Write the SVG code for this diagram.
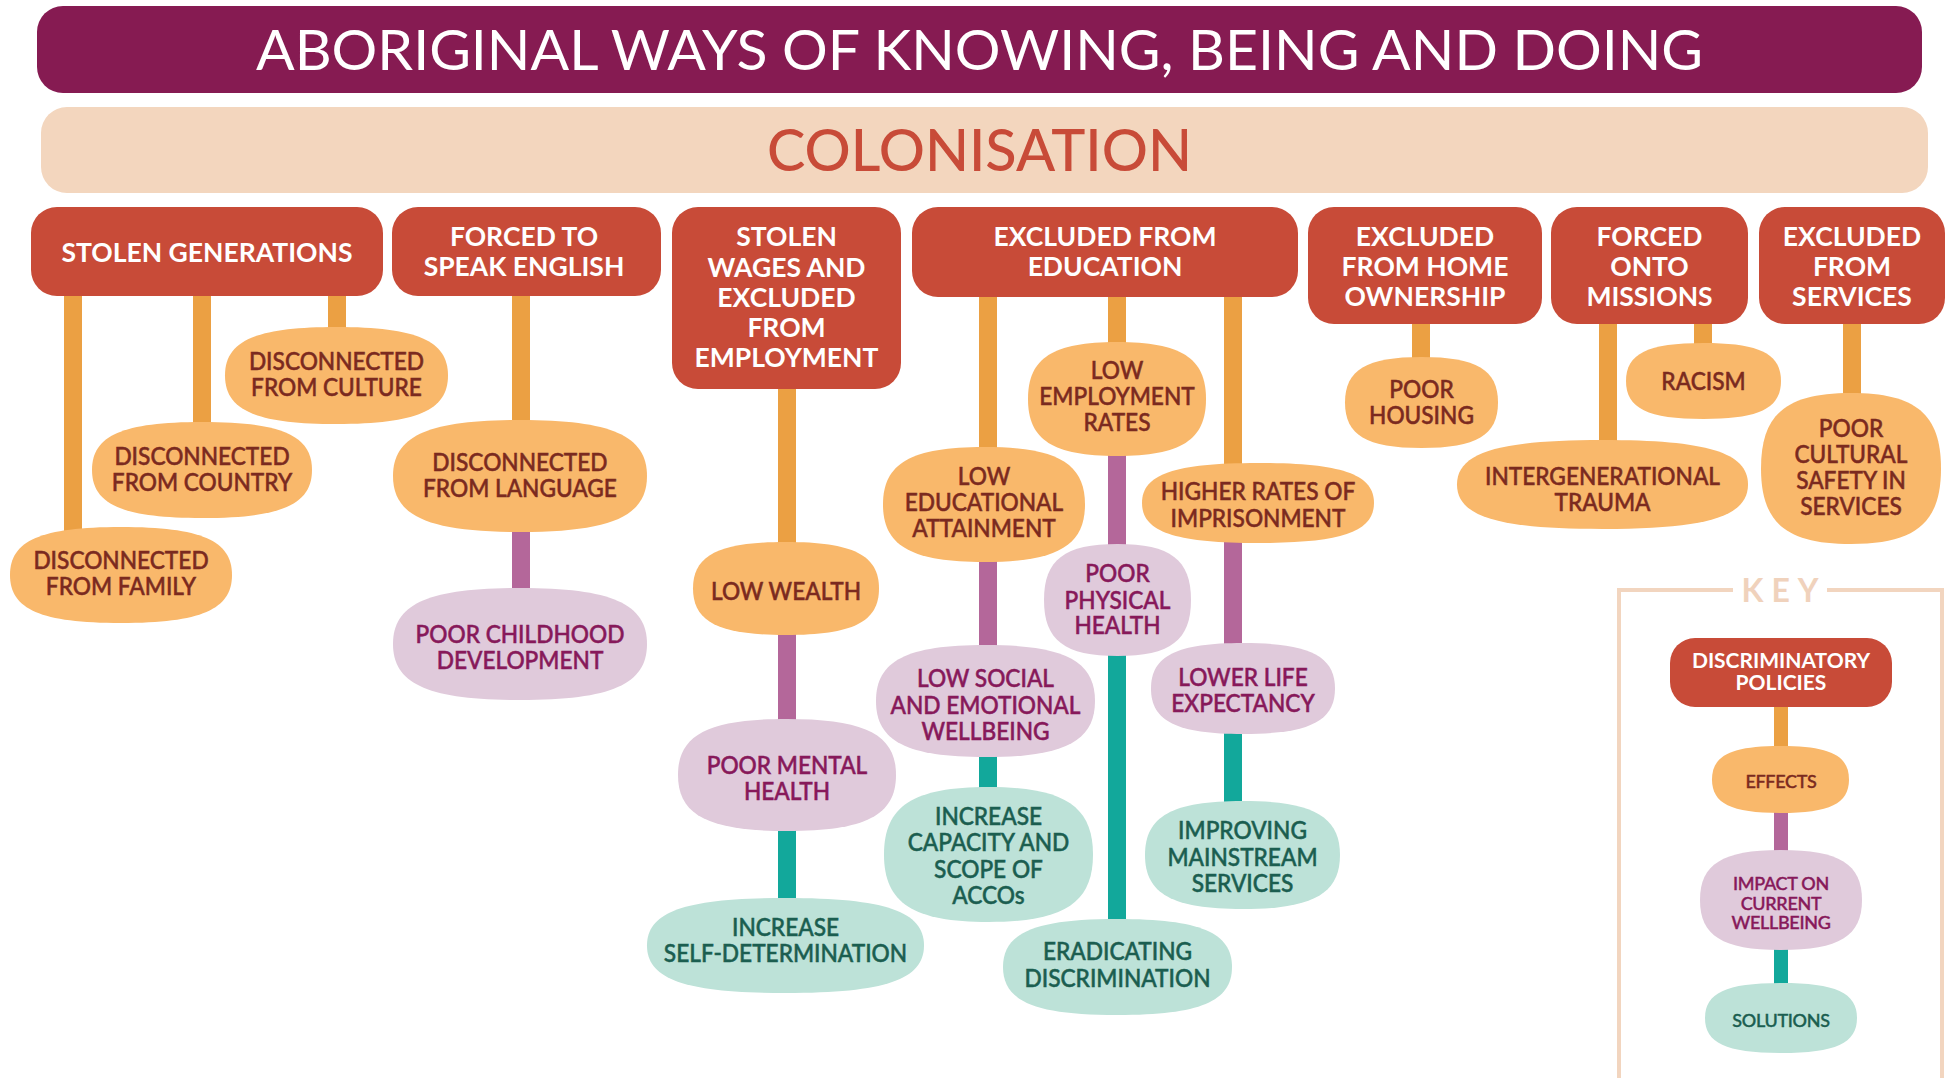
<svg xmlns="http://www.w3.org/2000/svg" width="1957" height="1078" viewBox="0 0 1957 1078">
<style>
  text{font-family:Lato,"Liberation Sans",sans-serif;text-anchor:middle}
  .policy{fill:#C84B38}
  .ptxt{font-weight:700;font-size:26.5px;fill:#fff}
  .eff{fill:#F9B86B}
  .imp{fill:#E0CADB}
  .sol{fill:#BDE2D8}
  .ntxt{font-size:24px;font-weight:500;stroke-width:0.5px;transform-box:fill-box;transform-origin:50% 50%;transform:scaleX(0.945)}
  .ktxt{font-size:18px;font-weight:500;letter-spacing:-0.3px;stroke-width:0.4px}
  .etxt{fill:#7B2A1F;stroke:#7B2A1F}
  .itxt{fill:#87195A;stroke:#87195A}
  .stxt{fill:#1B5E50;stroke:#1B5E50}
  .c-eff{stroke:#EBA043;stroke-width:18}
  .c-imp{stroke:#B4679A;stroke-width:18}
  .c-sol{stroke:#12A89B;stroke-width:18}
  .k{stroke-width:14}
</style>
<defs>
  <!-- rounded "squircle" node outline on a unit square -->
  <path id="blob" d="M-1 0C-1-.72-.72-1 0-1C.72-1 1-.72 1 0C1 .72 .72 1 0 1C-.72 1-1 .72-1 0Z"/>
</defs>

<rect width="1957" height="1078" fill="#fff"/>

<!-- header bands -->
<g id="title">
  <rect x="37" y="6" width="1885" height="87" rx="26" fill="#861B52"/>
  <text x="979.5" y="70" font-size="56" fill="#fff" textLength="1447" lengthAdjust="spacingAndGlyphs">ABORIGINAL WAYS OF KNOWING, BEING AND DOING</text>
</g>
<g id="colonisation">
  <rect x="41" y="107" width="1887" height="86" rx="26" fill="#F3D6BE"/>
  <text x="979.5" y="171" font-size="57" font-weight="500" fill="#C84B38" textLength="425" lengthAdjust="spacingAndGlyphs">COLONISATION</text>
</g>

<!-- connectors -->
<g id="connectors">
  <line class="c-eff" x1="73" y1="290" x2="73" y2="560"/>
  <line class="c-eff" x1="202" y1="290" x2="202" y2="470"/>
  <line class="c-eff" x1="337" y1="290" x2="337" y2="375"/>
  <line class="c-eff" x1="521" y1="290" x2="521" y2="476"/>
  <line class="c-imp" x1="521" y1="476" x2="521" y2="644"/>
  <line class="c-eff" x1="787" y1="380" x2="787" y2="588"/>
  <line class="c-imp" x1="787" y1="588" x2="787" y2="775"/>
  <line class="c-sol" x1="787" y1="775" x2="787" y2="945"/>
  <line class="c-eff" x1="988" y1="290" x2="988" y2="504"/>
  <line class="c-imp" x1="988" y1="504" x2="988" y2="701"/>
  <line class="c-sol" x1="988" y1="701" x2="988" y2="854"/>
  <line class="c-eff" x1="1117" y1="290" x2="1117" y2="399"/>
  <line class="c-imp" x1="1117" y1="399" x2="1117" y2="600"/>
  <line class="c-sol" x1="1117" y1="600" x2="1117" y2="967"/>
  <line class="c-eff" x1="1233" y1="290" x2="1233" y2="503"/>
  <line class="c-imp" x1="1233" y1="503" x2="1233" y2="688"/>
  <line class="c-sol" x1="1233" y1="688" x2="1233" y2="855"/>
  <line class="c-eff" x1="1421" y1="318" x2="1421" y2="402"/>
  <line class="c-eff" x1="1608" y1="318" x2="1608" y2="484"/>
  <line class="c-eff" x1="1703" y1="318" x2="1703" y2="381"/>
  <line class="c-eff" x1="1852" y1="318" x2="1852" y2="468"/>
  <line class="c-eff k" x1="1781" y1="700" x2="1781" y2="780"/>
  <line class="c-imp k" x1="1781" y1="780" x2="1781" y2="900"/>
  <line class="c-sol k" x1="1781" y1="900" x2="1781" y2="1018"/>
</g>

<!-- discriminatory policies -->
<g id="p-stolen-generations">
  <rect class="policy" x="31" y="207" width="352" height="89" rx="26"/>
  <text class="ptxt" x="207" y="261.5">STOLEN GENERATIONS</text>
</g>
<g id="p-forced-english">
  <rect class="policy" x="392" y="207" width="269" height="89" rx="26"/>
  <text class="ptxt"><tspan x="524" y="246">FORCED TO</tspan><tspan x="524" y="276">SPEAK ENGLISH</tspan></text>
</g>
<g id="p-stolen-wages">
  <rect class="policy" x="672" y="207" width="229" height="182" rx="26"/>
  <text class="ptxt"><tspan x="786.5" y="246">STOLEN</tspan><tspan x="786.5" y="276.5">WAGES AND</tspan><tspan x="786.5" y="306.5">EXCLUDED</tspan><tspan x="786.5" y="336.5">FROM</tspan><tspan x="786.5" y="367">EMPLOYMENT</tspan></text>
</g>
<g id="p-education">
  <rect class="policy" x="912" y="207" width="386" height="90" rx="26"/>
  <text class="ptxt"><tspan x="1105" y="246">EXCLUDED FROM</tspan><tspan x="1105" y="276">EDUCATION</tspan></text>
</g>
<g id="p-home">
  <rect class="policy" x="1308" y="207" width="234" height="117" rx="26"/>
  <text class="ptxt"><tspan x="1425" y="246">EXCLUDED</tspan><tspan x="1425" y="276">FROM HOME</tspan><tspan x="1425" y="306">OWNERSHIP</tspan></text>
</g>
<g id="p-missions">
  <rect class="policy" x="1551" y="207" width="197" height="117" rx="26"/>
  <text class="ptxt"><tspan x="1649.5" y="246">FORCED</tspan><tspan x="1649.5" y="276">ONTO</tspan><tspan x="1649.5" y="306">MISSIONS</tspan></text>
</g>
<g id="p-services">
  <rect class="policy" x="1759" y="207" width="186" height="117" rx="26"/>
  <text class="ptxt"><tspan x="1852" y="246">EXCLUDED</tspan><tspan x="1852" y="276">FROM</tspan><tspan x="1852" y="306">SERVICES</tspan></text>
</g>

<!-- effects -->
<g id="e-culture">
  <use href="#blob" class="eff" transform="translate(336.5 375.5) scale(111.5 48.5)"/>
  <text class="ntxt etxt"><tspan x="336.5" y="369.6">DISCONNECTED</tspan><tspan x="336.5" y="395.6">FROM CULTURE</tspan></text>
</g>
<g id="e-country">
  <use href="#blob" class="eff" transform="translate(202 470) scale(110 48)"/>
  <text class="ntxt etxt"><tspan x="202" y="464.6">DISCONNECTED</tspan><tspan x="202" y="491">FROM COUNTRY</tspan></text>
</g>
<g id="e-family">
  <use href="#blob" class="eff" transform="translate(121 575) scale(111 48)"/>
  <text class="ntxt etxt"><tspan x="121" y="569">DISCONNECTED</tspan><tspan x="121" y="594.6">FROM FAMILY</tspan></text>
</g>
<g id="e-language">
  <use href="#blob" class="eff" transform="translate(520 476) scale(127 56)"/>
  <text class="ntxt etxt"><tspan x="520" y="470.6">DISCONNECTED</tspan><tspan x="520" y="496.6">FROM LANGUAGE</tspan></text>
</g>
<g id="e-wealth">
  <use href="#blob" class="eff" transform="translate(786 588.5) scale(93 46.5)"/>
  <text class="ntxt etxt" x="786" y="599.6">LOW WEALTH</text>
</g>
<g id="e-attainment">
  <use href="#blob" class="eff" transform="translate(984 504.5) scale(101 57.5)"/>
  <text class="ntxt etxt"><tspan x="984" y="484.6">LOW</tspan><tspan x="984" y="511">EDUCATIONAL</tspan><tspan x="984" y="537">ATTAINMENT</tspan></text>
</g>
<g id="e-employment">
  <use href="#blob" class="eff" transform="translate(1117 399) scale(89 57)"/>
  <text class="ntxt etxt"><tspan x="1117" y="379">LOW</tspan><tspan x="1117" y="405">EMPLOYMENT</tspan><tspan x="1117" y="431">RATES</tspan></text>
</g>
<g id="e-imprisonment">
  <use href="#blob" class="eff" transform="translate(1258 503) scale(116 40)"/>
  <text class="ntxt etxt"><tspan x="1258" y="500">HIGHER RATES OF</tspan><tspan x="1258" y="526.6">IMPRISONMENT</tspan></text>
</g>
<g id="e-housing">
  <use href="#blob" class="eff" transform="translate(1421.5 402.5) scale(76.5 45.5)"/>
  <text class="ntxt etxt"><tspan x="1421.5" y="397.6">POOR</tspan><tspan x="1421.5" y="423.6">HOUSING</tspan></text>
</g>
<g id="e-racism">
  <use href="#blob" class="eff" transform="translate(1703.5 381) scale(77.5 38)"/>
  <text class="ntxt etxt" x="1703.5" y="390">RACISM</text>
</g>
<g id="e-trauma">
  <use href="#blob" class="eff" transform="translate(1602.5 484.5) scale(145.5 44.5)"/>
  <text class="ntxt etxt"><tspan x="1602.5" y="484.6">INTERGENERATIONAL</tspan><tspan x="1602.5" y="511">TRAUMA</tspan></text>
</g>
<g id="e-cultural-safety">
  <use href="#blob" class="eff" transform="translate(1851 468.5) scale(90 75.5)"/>
  <text class="ntxt etxt"><tspan x="1851" y="436.6">POOR</tspan><tspan x="1851" y="462.6">CULTURAL</tspan><tspan x="1851" y="489">SAFETY IN</tspan><tspan x="1851" y="515">SERVICES</tspan></text>
</g>

<!-- impacts on current wellbeing -->
<g id="i-childhood">
  <use href="#blob" class="imp" transform="translate(520 644) scale(127 56)"/>
  <text class="ntxt itxt"><tspan x="520" y="643">POOR CHILDHOOD</tspan><tspan x="520" y="668.6">DEVELOPMENT</tspan></text>
</g>
<g id="i-mental">
  <use href="#blob" class="imp" transform="translate(787 775) scale(109 56)"/>
  <text class="ntxt itxt"><tspan x="787" y="773.6">POOR MENTAL</tspan><tspan x="787" y="799.6">HEALTH</tspan></text>
</g>
<g id="i-social">
  <use href="#blob" class="imp" transform="translate(985.5 701) scale(109.5 56)"/>
  <text class="ntxt itxt"><tspan x="985.5" y="687">LOW SOCIAL</tspan><tspan x="985.5" y="713.6">AND EMOTIONAL</tspan><tspan x="985.5" y="739.6">WELLBEING</tspan></text>
</g>
<g id="i-physical">
  <use href="#blob" class="imp" transform="translate(1117.5 600) scale(73.5 56)"/>
  <text class="ntxt itxt"><tspan x="1117.5" y="582">POOR</tspan><tspan x="1117.5" y="608.6">PHYSICAL</tspan><tspan x="1117.5" y="634">HEALTH</tspan></text>
</g>
<g id="i-life">
  <use href="#blob" class="imp" transform="translate(1243 688.5) scale(92 45.5)"/>
  <text class="ntxt itxt"><tspan x="1243" y="685.6">LOWER LIFE</tspan><tspan x="1243" y="711.6">EXPECTANCY</tspan></text>
</g>

<!-- solutions -->
<g id="s-self-determination">
  <use href="#blob" class="sol" transform="translate(785.5 945.5) scale(138.5 47.5)"/>
  <text class="ntxt stxt"><tspan x="785.5" y="935.6">INCREASE</tspan><tspan x="785.5" y="961.6">SELF-DETERMINATION</tspan></text>
</g>
<g id="s-accos">
  <use href="#blob" class="sol" transform="translate(988.5 854.5) scale(104.5 67.5)"/>
  <text class="ntxt stxt"><tspan x="988.5" y="825">INCREASE</tspan><tspan x="988.5" y="851">CAPACITY AND</tspan><tspan x="988.5" y="877.6">SCOPE OF</tspan><tspan x="988.5" y="903.6">ACCOs</tspan></text>
</g>
<g id="s-discrimination">
  <use href="#blob" class="sol" transform="translate(1117.5 967) scale(114.5 48)"/>
  <text class="ntxt stxt"><tspan x="1117.5" y="960">ERADICATING</tspan><tspan x="1117.5" y="986.6">DISCRIMINATION</tspan></text>
</g>
<g id="s-mainstream">
  <use href="#blob" class="sol" transform="translate(1242.5 855) scale(97.5 54)"/>
  <text class="ntxt stxt"><tspan x="1242.5" y="839">IMPROVING</tspan><tspan x="1242.5" y="865.6">MAINSTREAM</tspan><tspan x="1242.5" y="891.6">SERVICES</tspan></text>
</g>

<!-- key -->
<g id="key">
  <path d="M1733 590H1619V1080M1827 590H1942V1080" fill="none" stroke="#F2D5BF" stroke-width="4"/>
  <text x="1784" y="602" font-size="32" font-weight="700" letter-spacing="8" fill="#F0D2BC">KEY</text>
</g>
<g id="key-policy">
  <rect class="policy" x="1670" y="638" width="222" height="69" rx="25"/>
  <text font-size="21" font-weight="700" fill="#fff"><tspan x="1781" y="668">DISCRIMINATORY</tspan><tspan x="1781" y="690">POLICIES</tspan></text>
</g>
<g id="key-effects">
  <use href="#blob" class="eff" transform="translate(1780.5 779.5) scale(68.5 33.5)"/>
  <text class="ktxt etxt" x="1781" y="788">EFFECTS</text>
</g>
<g id="key-impact">
  <use href="#blob" class="imp" transform="translate(1781 900) scale(81 50)"/>
  <text class="ktxt itxt"><tspan x="1781" y="890">IMPACT ON</tspan><tspan x="1781" y="909.5">CURRENT</tspan><tspan x="1781" y="929">WELLBEING</tspan></text>
</g>
<g id="key-solutions">
  <use href="#blob" class="sol" transform="translate(1781 1018) scale(76 35)"/>
  <text class="ktxt stxt" x="1781" y="1027">SOLUTIONS</text>
</g>
</svg>
